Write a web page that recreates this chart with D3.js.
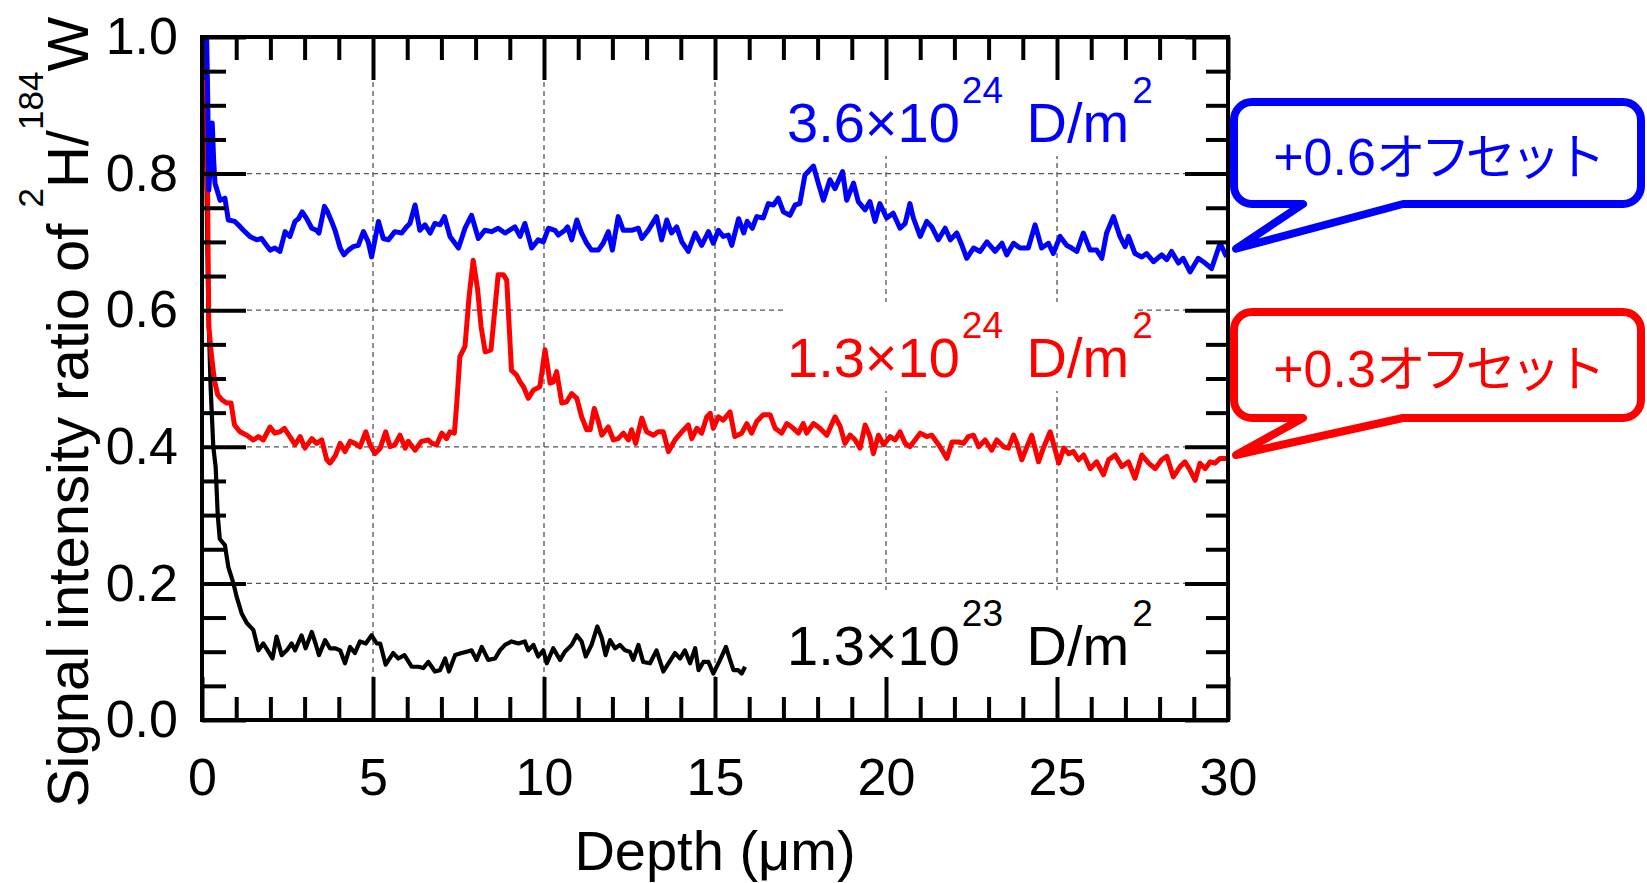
<!DOCTYPE html>
<html lang="ja">
<head>
  <meta charset="utf-8">
  <title>Signal intensity ratio vs depth</title>
  <style>
    body { margin: 0; background: #fff; }
    text { font-family: "Liberation Sans", Arial, "Noto Sans CJK JP", sans-serif; }
  </style>
</head>
<body>
  <script src="https://cdn.jsdelivr.net/npm/d3@7"></script>
  <script>
    var width = 1647;
    var height = 883;

    // 3.6x10^24 D/m2 (already shifted +0.6)
    var depthBlue = [0.12,0.17,0.20,0.25,0.30,0.34,0.38,0.53,0.67,0.77,0.96,1.06,1.21,1.40,1.60,1.74,1.84,1.99,2.13,2.28,2.43,2.57,2.72,2.82,2.93,3.06,3.21,3.35,3.42,3.58,3.67,3.79,3.89,4.04,4.15,4.28,4.42,4.57,4.72,4.86,4.96,5.16,5.30,5.45,5.64,5.84,5.98,6.08,6.23,6.37,6.52,6.67,6.81,6.96,7.09,7.25,7.50,7.69,7.88,8.08,8.27,8.47,8.66,8.86,9.15,9.30,9.44,9.64,9.83,9.98,10.13,10.32,10.42,10.61,10.69,10.81,10.96,11.10,11.25,11.39,11.59,11.73,11.88,12.00,12.17,12.32,12.56,12.76,12.86,13.05,13.29,13.44,13.59,13.73,13.88,14.03,14.22,14.42,14.61,14.81,14.95,15.10,15.24,15.39,15.49,15.69,15.84,15.94,16.09,16.22,16.41,16.56,16.71,16.85,17.00,17.19,17.34,17.48,17.63,17.88,18.02,18.17,18.36,18.51,18.73,18.85,19.05,19.19,19.39,19.53,19.68,19.82,20.02,20.21,20.41,20.56,20.70,20.80,21.00,21.19,21.34,21.53,21.73,21.88,22.07,22.22,22.36,22.56,22.75,22.95,23.19,23.39,23.53,23.73,23.92,24.16,24.36,24.55,24.75,24.89,25.09,25.28,25.43,25.58,25.77,25.97,26.16,26.31,26.45,26.65,26.84,26.99,27.09,27.28,27.48,27.62,27.82,28.06,28.21,28.35,28.55,28.69,28.89,29.13,29.33,29.52,29.77,29.96];
    var ratioBlue = [1.05,0.90,0.776,0.82,0.874,0.82,0.786,0.761,0.764,0.732,0.730,0.725,0.717,0.708,0.703,0.705,0.698,0.688,0.691,0.686,0.715,0.708,0.730,0.734,0.744,0.734,0.720,0.717,0.713,0.752,0.744,0.730,0.717,0.691,0.681,0.688,0.693,0.695,0.715,0.700,0.678,0.730,0.705,0.703,0.715,0.713,0.722,0.727,0.754,0.717,0.725,0.713,0.727,0.725,0.737,0.708,0.691,0.720,0.739,0.705,0.717,0.715,0.720,0.713,0.722,0.708,0.727,0.691,0.703,0.700,0.720,0.717,0.710,0.717,0.722,0.703,0.732,0.713,0.698,0.688,0.688,0.698,0.715,0.688,0.737,0.717,0.717,0.720,0.705,0.717,0.737,0.703,0.732,0.713,0.722,0.700,0.686,0.713,0.695,0.715,0.698,0.717,0.708,0.710,0.695,0.734,0.713,0.730,0.720,0.737,0.735,0.756,0.754,0.764,0.744,0.739,0.754,0.756,0.798,0.811,0.786,0.761,0.791,0.778,0.803,0.761,0.786,0.759,0.747,0.759,0.730,0.756,0.735,0.742,0.720,0.727,0.756,0.735,0.708,0.730,0.722,0.703,0.720,0.703,0.713,0.695,0.676,0.691,0.686,0.700,0.686,0.698,0.681,0.698,0.691,0.691,0.725,0.691,0.698,0.683,0.708,0.695,0.691,0.686,0.713,0.688,0.688,0.676,0.713,0.737,0.708,0.693,0.708,0.683,0.678,0.683,0.671,0.681,0.674,0.686,0.669,0.676,0.656,0.676,0.669,0.661,0.698,0.678];

    // 1.3x10^24 D/m2 (already shifted +0.3)
    var depthRed = [0.08,0.13,0.16,0.18,0.20,0.28,0.36,0.46,0.58,0.72,0.85,0.95,1.11,1.31,1.50,1.65,1.79,1.99,2.13,2.28,2.41,2.57,2.72,2.87,3.01,3.21,3.35,3.50,3.65,3.74,3.89,4.04,4.18,4.33,4.47,4.62,4.79,4.91,5.06,5.21,5.37,5.50,5.64,5.79,5.94,6.03,6.23,6.42,6.62,6.72,6.86,7.01,7.15,7.25,7.38,7.45,7.54,7.69,7.81,7.93,8.06,8.16,8.28,8.45,8.57,8.66,8.81,8.91,9.05,9.20,9.30,9.40,9.54,9.69,9.88,10.03,10.18,10.27,10.37,10.52,10.66,10.81,10.96,11.10,11.25,11.35,11.47,11.59,11.69,11.88,12.03,12.17,12.32,12.47,12.56,12.68,12.86,13.00,13.20,13.34,13.49,13.64,13.83,14.03,14.22,14.32,14.47,14.61,14.76,14.86,14.95,15.10,15.24,15.44,15.58,15.78,15.93,16.07,16.22,16.41,16.61,16.76,16.95,17.10,17.29,17.44,17.58,17.68,17.88,18.07,18.27,18.51,18.66,18.80,18.95,19.10,19.24,19.39,19.53,19.63,19.78,19.93,20.12,20.27,20.41,20.56,20.70,20.85,21.00,21.19,21.34,21.58,21.78,21.93,22.12,22.27,22.41,22.56,22.71,22.90,23.09,23.24,23.44,23.58,23.73,23.83,23.97,24.12,24.26,24.46,24.60,24.80,24.95,25.05,25.20,25.34,25.48,25.63,25.78,25.97,26.16,26.36,26.51,26.70,26.90,27.09,27.28,27.48,27.68,27.87,28.06,28.21,28.40,28.60,28.74,28.89,29.04,29.18,29.33,29.48,29.62,29.77,29.96];
    var ratioRed = [1.02,0.95,0.80,0.68,0.576,0.532,0.498,0.476,0.469,0.464,0.464,0.432,0.422,0.417,0.410,0.415,0.410,0.429,0.420,0.422,0.427,0.415,0.403,0.415,0.398,0.412,0.405,0.410,0.381,0.376,0.386,0.405,0.393,0.408,0.405,0.400,0.422,0.403,0.390,0.398,0.422,0.400,0.403,0.417,0.398,0.408,0.395,0.408,0.410,0.405,0.403,0.420,0.412,0.422,0.420,0.464,0.532,0.547,0.620,0.673,0.630,0.576,0.539,0.542,0.605,0.652,0.652,0.644,0.512,0.505,0.495,0.488,0.471,0.483,0.488,0.542,0.493,0.495,0.510,0.464,0.466,0.478,0.471,0.444,0.425,0.425,0.456,0.437,0.417,0.429,0.410,0.412,0.420,0.410,0.425,0.405,0.442,0.422,0.417,0.422,0.422,0.393,0.410,0.422,0.432,0.412,0.427,0.420,0.444,0.449,0.427,0.444,0.439,0.451,0.415,0.420,0.434,0.420,0.437,0.447,0.447,0.427,0.420,0.434,0.427,0.420,0.434,0.420,0.434,0.427,0.417,0.444,0.430,0.405,0.417,0.410,0.398,0.432,0.415,0.390,0.417,0.403,0.415,0.410,0.422,0.405,0.400,0.410,0.420,0.415,0.417,0.400,0.383,0.407,0.407,0.405,0.415,0.417,0.400,0.410,0.395,0.410,0.400,0.398,0.417,0.405,0.381,0.400,0.417,0.378,0.398,0.422,0.395,0.376,0.398,0.390,0.393,0.381,0.388,0.368,0.378,0.359,0.381,0.388,0.371,0.378,0.354,0.388,0.376,0.368,0.381,0.386,0.356,0.371,0.378,0.366,0.351,0.376,0.368,0.378,0.376,0.383,0.383];

    // 1.3x10^23 D/m2
    var depthBlack = [0.06,0.10,0.14,0.18,0.25,0.33,0.40,0.46,0.52,0.67,0.77,0.92,1.01,1.16,1.31,1.50,1.65,1.79,1.92,2.06,2.18,2.33,2.48,2.62,2.72,2.91,3.03,3.21,3.32,3.42,3.60,3.74,3.89,4.04,4.18,4.33,4.47,4.62,4.79,4.96,5.11,5.21,5.37,5.59,5.74,5.92,6.13,6.33,6.47,6.62,6.81,6.96,7.11,7.22,7.40,7.59,7.74,7.88,8.03,8.18,8.37,8.57,8.71,8.86,9.05,9.25,9.44,9.54,9.69,9.83,9.98,10.08,10.27,10.47,10.61,10.81,10.96,11.10,11.22,11.39,11.56,11.69,11.80,11.93,12.08,12.22,12.37,12.51,12.61,12.76,12.90,13.10,13.29,13.49,13.64,13.83,13.98,14.12,14.27,14.42,14.52,14.66,14.81,14.95,15.15,15.32,15.44,15.54,15.68,15.78,15.88];
    var ratioBlack = [1.02,0.90,0.75,0.615,0.49,0.40,0.37,0.30,0.265,0.256,0.224,0.200,0.181,0.156,0.142,0.132,0.102,0.112,0.102,0.090,0.122,0.095,0.102,0.112,0.102,0.124,0.105,0.129,0.112,0.095,0.117,0.105,0.105,0.102,0.083,0.107,0.098,0.115,0.112,0.124,0.112,0.112,0.081,0.098,0.090,0.095,0.078,0.078,0.076,0.085,0.071,0.073,0.090,0.071,0.095,0.098,0.100,0.102,0.088,0.107,0.088,0.090,0.102,0.110,0.115,0.112,0.115,0.102,0.110,0.093,0.102,0.083,0.105,0.088,0.100,0.110,0.124,0.115,0.093,0.110,0.137,0.120,0.095,0.117,0.105,0.110,0.102,0.100,0.088,0.110,0.085,0.083,0.102,0.071,0.083,0.098,0.090,0.102,0.083,0.105,0.073,0.085,0.085,0.068,0.088,0.107,0.088,0.073,0.073,0.068,0.078];

    var xTicks = [0, 5, 10, 15, 20, 25, 30];
    var yTicks = [0, 0.2, 0.4, 0.6, 0.8, 1.0];

    var svg = d3.select("body").append("svg")
                .attr("width", width)
                .attr("height", height);

    svg.append("rect").attr("width", width).attr("height", height).attr("fill", "#fff");

    var x = d3.scaleLinear().domain([0, 30]).range([202, 1228]);
    var y = d3.scaleLinear().domain([0, 1]).range([720, 37]);

    // grid
    var grid = svg.append("g")
                  .attr("stroke", "#555")
                  .attr("stroke-width", 1.3)
                  .attr("stroke-dasharray", "5,4");
    grid.selectAll(".gx").data(xTicks.slice(1, -1)).enter().append("line")
        .attr("x1", d => x(d)).attr("x2", d => x(d))
        .attr("y1", y(1)).attr("y2", y(0));
    grid.selectAll(".gy").data(yTicks.slice(1, -1)).enter().append("line")
        .attr("x1", x(0)).attr("x2", x(30))
        .attr("y1", d => y(d)).attr("y2", d => y(d));

    // legend labels, with white backing
    var labels = [
      { base: "3.6×10", exp: "24", color: "#0000ff" },
      { base: "1.3×10", exp: "24", color: "#ff0000" },
      { base: "1.3×10", exp: "23", color: "#000000" }
    ];
    var labelBase = [142, 377, 665];

    labels.forEach(function(l, i){
      var by = labelBase[i];
      svg.append("rect")
         .attr("x", 785).attr("y", by - 75)
         .attr("width", 352).attr("height", 89)
         .attr("fill", "#fff");
      var t = svg.append("text")
                 .attr("x", 787).attr("y", by)
                 .attr("font-size", 56)
                 .attr("fill", l.color);
      t.append("tspan").text(l.base);
      t.append("tspan").attr("font-size", 37).attr("dy", -39).attr("dx", 2).text(l.exp);
      t.append("tspan").attr("font-size", 56).attr("dy", 39).attr("dx", 8).text(" D/m");
      t.append("tspan").attr("font-size", 37).attr("dy", -39).attr("dx", 3).text("2");
    });

    // data lines
    svg.append("clipPath").attr("id", "plot-clip")
       .append("rect")
       .attr("x", x(0)).attr("y", y(1))
       .attr("width", x(30) - x(0)).attr("height", y(0) - y(1));

    var line = d3.line().x(d => x(d[0])).y(d => y(d[1]));

    var series = [
      { xs: depthBlack, ys: ratioBlack, color: "#000000", w: 4.2 },
      { xs: depthRed, ys: ratioRed, color: "#ff0000", w: 5 },
      { xs: depthBlue, ys: ratioBlue, color: "#0000ff", w: 5 }
    ];

    var lines = svg.append("g").attr("clip-path", "url(#plot-clip)");
    series.forEach(function(s){
      lines.append("path")
           .datum(d3.zip(s.xs, s.ys))
           .attr("d", line)
           .attr("fill", "none")
           .attr("stroke", s.color)
           .attr("stroke-width", s.w)
           .attr("stroke-linejoin", "round");
    });

    // ticks (inward) on all four sides
    var fmt = d3.format(".1f");
    function styleAxis(g){
      g.select(".domain").remove();
      g.selectAll(".tick line").attr("stroke", "#000").attr("stroke-width", 4);
      g.selectAll(".tick text").attr("font-size", 52).attr("fill", "#000")
       .style("font-family", "'Liberation Sans', Arial, sans-serif");
    }

    var xMinor = d3.range(0, 31, 1).filter(d => d % 5 !== 0);
    var yMinor = d3.range(0, 21, 1).map(d => d * 0.05).filter((d, i) => i % 4 !== 0);

    svg.append("g").attr("transform", "translate(0," + y(0) + ")")
       .call(d3.axisBottom(x).tickValues(xMinor).tickSize(-23).tickFormat(""))
       .call(styleAxis);
    svg.append("g").attr("transform", "translate(0," + y(0) + ")")
       .call(d3.axisBottom(x).tickValues(xTicks).tickSize(-43).tickPadding(38).tickFormat(d3.format("d")))
       .call(styleAxis);
    svg.append("g").attr("transform", "translate(0," + y(1) + ")")
       .call(d3.axisTop(x).tickValues(xMinor).tickSize(-23).tickFormat(""))
       .call(styleAxis);
    svg.append("g").attr("transform", "translate(0," + y(1) + ")")
       .call(d3.axisTop(x).tickValues(xTicks).tickSize(-43).tickFormat(""))
       .call(styleAxis);

    svg.append("g").attr("transform", "translate(" + x(0) + ",0)")
       .call(d3.axisLeft(y).tickValues(yMinor).tickSize(-24).tickFormat(""))
       .call(styleAxis);
    svg.append("g").attr("transform", "translate(" + x(0) + ",0)")
       .call(d3.axisLeft(y).tickValues(yTicks).tickSize(-44).tickPadding(24).tickFormat(fmt))
       .call(styleAxis);
    svg.append("g").attr("transform", "translate(" + x(30) + ",0)")
       .call(d3.axisRight(y).tickValues(yMinor).tickSize(-22).tickFormat(""))
       .call(styleAxis);
    svg.append("g").attr("transform", "translate(" + x(30) + ",0)")
       .call(d3.axisRight(y).tickValues(yTicks).tickSize(-43).tickFormat(""))
       .call(styleAxis);

    // frame
    svg.append("rect")
       .attr("x", x(0)).attr("y", y(1))
       .attr("width", x(30) - x(0)).attr("height", y(0) - y(1))
       .attr("fill", "none").attr("stroke", "#000").attr("stroke-width", 4);

    // axis titles
    svg.append("text")
       .attr("x", (x(0) + x(30)) / 2).attr("y", 870)
       .attr("text-anchor", "middle")
       .attr("font-size", 56)
       .text("Depth (μm)");

    var yt = svg.append("text")
                .attr("transform", "translate(88,412) rotate(-90)")
                .attr("text-anchor", "middle")
                .attr("font-size", 58);
    yt.append("tspan").text("Signal intensity ratio of ");
    yt.append("tspan").attr("font-size", 35).attr("dy", -45).text("2");
    yt.append("tspan").attr("font-size", 58).attr("dy", 45).text("H/");
    yt.append("tspan").attr("font-size", 35).attr("dy", -45).text("184");
    yt.append("tspan").attr("font-size", 58).attr("dy", 45).text("W");

    // offset callouts
    function calloutPath(x0, y0, x1, y1, r, t1, t2, tx, ty){
      return "M" + (x0 + r) + "," + y0 +
             "H" + (x1 - r) + "A" + r + "," + r + " 0 0 1 " + x1 + "," + (y0 + r) +
             "V" + (y1 - r) + "A" + r + "," + r + " 0 0 1 " + (x1 - r) + "," + y1 +
             "H" + t2 + "L" + tx + "," + ty + "L" + t1 + "," + y1 +
             "H" + (x0 + r) + "A" + r + "," + r + " 0 0 1 " + x0 + "," + (y1 - r) +
             "V" + (y0 + r) + "A" + r + "," + r + " 0 0 1 " + (x0 + r) + "," + y0 + "Z";
    }

    var callouts = [
      { text: "+0.6", color: "#0000ff", top: 102, bottom: 204, tipVal: 0.69, base: 175 },
      { text: "+0.3", color: "#ff0000", top: 312, bottom: 418, tipVal: 0.388, base: 387 }
    ];

    callouts.forEach(function(c){
      svg.append("path")
         .attr("d", calloutPath(1234, c.top, 1641, c.bottom, 18, 1303, 1403, x(30) + 8, y(c.tipVal)))
         .attr("fill", "#fff")
         .attr("stroke", c.color)
         .attr("stroke-width", 8)
         .attr("stroke-linejoin", "round");
      var t = svg.append("text")
                 .attr("x", 1437).attr("y", c.base)
                 .attr("text-anchor", "middle")
                 .attr("fill", c.color);
      t.append("tspan").attr("font-size", 52).text(c.text);
      t.append("tspan").attr("font-size", 50)
       .attr("letter-spacing", -5)
       .style("font-family", "'Noto Sans CJK JP', sans-serif")
       .text("オフセット");
    });
  </script>
</body>
</html>
